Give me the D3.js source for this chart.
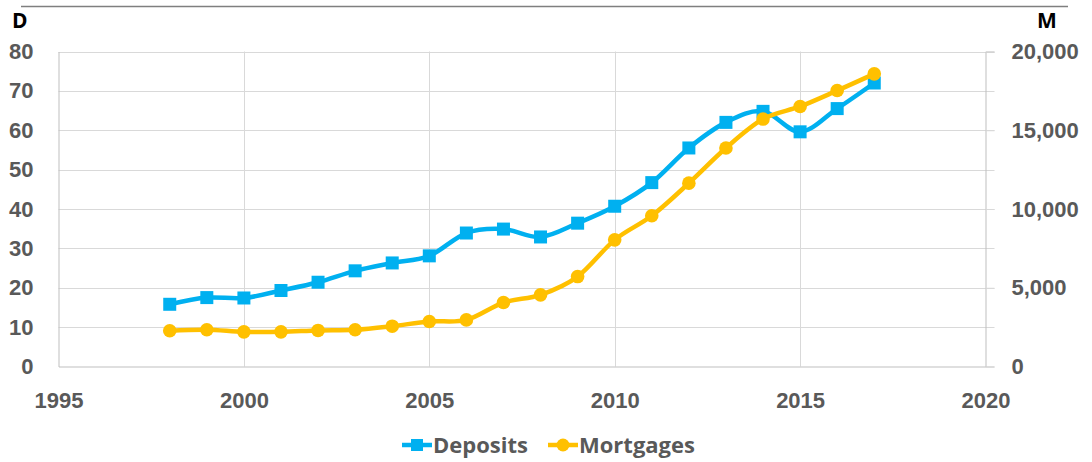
<!DOCTYPE html>
<html>
<head>
<meta charset="utf-8">
<script src="https://cdn.jsdelivr.net/npm/d3@7"></script>
<style>
    body { margin: 0; background: #fff; }
    svg { display: block; font-family: "Open Sans", sans-serif; font-weight: bold; }
    .grid line { stroke: #d9d9d9; stroke-width: 1; }
    .tick text { fill: #595959; font-size: 22px; }
</style>
</head>
<body>
<div class="svg_container"></div>
<script>
var years = [1998, 1999, 2000, 2001, 2002, 2003, 2004, 2005, 2006, 2007,
             2008, 2009, 2010, 2011, 2012, 2013, 2014, 2015, 2016, 2017];
var deposits = [15.8, 17.5, 17.4, 19.3, 21.4, 24.3, 26.3, 28.1, 33.9, 34.9,
                32.9, 36.4, 40.7, 46.7, 55.5, 62.0, 64.8, 59.6, 65.5, 72.0];
var mortgages = [2270, 2330, 2200, 2200, 2290, 2330, 2560, 2860, 2960, 4060,
                 4550, 5710, 8040, 9570, 11640, 13870, 15710, 16510, 17520, 18580];
var xTicks = [1995, 2000, 2005, 2010, 2015, 2020];
var leftTicks = [0, 10, 20, 30, 40, 50, 60, 70, 80];
var rightTicks = [0, 5000, 10000, 15000, 20000];

const WIDTH = 1092;
const HEIGHT = 462;
const LEFT = 58.5, RIGHT = 985.5, TOP = 51.5, BOTTOM = 366.5;
const BLUE = "#00b0f0", GOLD = "#ffc000";

var xScale = d3.scaleLinear().domain([1995, 2020]).range([LEFT, RIGHT]);
var yLeft = d3.scaleLinear().domain([0, 80]).range([BOTTOM, TOP]);
var yRight = d3.scaleLinear().domain([0, 20000]).range([BOTTOM, TOP]);

var svg = d3.select('.svg_container').append('svg')
    .attr('width', WIDTH)
    .attr('height', HEIGHT);

// cropped title underline
svg.append('line')
    .attr('x1', 21).attr('x2', 1068).attr('y1', 6.5).attr('y2', 6.5)
    .attr('stroke', '#7f7f7f').attr('stroke-width', 1.5);

// horizontal gridlines (extend a little past the right axis like tick marks)
svg.append('g').attr('class', 'grid')
    .selectAll('line').data(leftTicks.slice(1)).enter().append('line')
    .attr('x1', LEFT).attr('x2', RIGHT + 9)
    .attr('y1', function (d) { return Math.round(yLeft(d)) + 0.5; })
    .attr('y2', function (d) { return Math.round(yLeft(d)) + 0.5; });

// vertical gridlines
svg.append('g').attr('class', 'grid')
    .selectAll('line').data(xTicks.slice(1, -1)).enter().append('line')
    .attr('x1', function (d) { return Math.round(xScale(d)) + 0.5; })
    .attr('x2', function (d) { return Math.round(xScale(d)) + 0.5; })
    .attr('y1', TOP).attr('y2', BOTTOM);

// axes
var xAxis = d3.axisBottom(xScale).tickValues(xTicks).tickSize(0).tickPadding(26).tickFormat(d3.format('d'));
var leftAxis = d3.axisLeft(yLeft).tickValues(leftTicks).tickSize(0).tickPadding(25);
var rightAxis = d3.axisRight(yRight).tickValues(rightTicks).tickSize(9).tickPadding(17).tickFormat(d3.format(','));

svg.append('g').attr('transform', 'translate(0,' + BOTTOM + ')').call(xAxis)
    .call(function (g) { g.select('.domain').attr('stroke', '#bfbfbf'); });
svg.append('g').attr('transform', 'translate(' + LEFT + ',0)').call(leftAxis)
    .call(function (g) { g.select('.domain').attr('stroke', '#bfbfbf'); });
svg.append('g').attr('transform', 'translate(' + RIGHT + ',0)').call(rightAxis)
    .call(function (g) {
        g.select('.domain').attr('stroke', '#bfbfbf');
        g.selectAll('.tick line').attr('stroke', '#d9d9d9');
        g.selectAll('.tick text').attr('text-anchor', 'start');
    });

// axis unit labels
svg.append('text').attr('x', 12).attr('y', 28).attr('font-size', 21).attr('fill', '#000').text('D');
svg.append('text').attr('x', 1037).attr('y', 28).attr('font-size', 21).attr('fill', '#000').text('M');

var depData = years.map(function (y, i) { return {x: y, v: deposits[i]}; });
var morData = years.map(function (y, i) { return {x: y, v: mortgages[i]}; });

var depLine = d3.line()
    .x(function (d) { return xScale(d.x); })
    .y(function (d) { return yLeft(d.v); })
    .curve(d3.curveCardinal.tension(0));
var morLine = d3.line()
    .x(function (d) { return xScale(d.x); })
    .y(function (d) { return yRight(d.v); })
    .curve(d3.curveCardinal.tension(0));

// deposits
svg.append('path').attr('d', depLine(depData))
    .attr('fill', 'none').attr('stroke', BLUE).attr('stroke-width', 4.5);
svg.append('g').selectAll('rect').data(depData).enter().append('rect')
    .attr('x', function (d) { return xScale(d.x) - 6.5; })
    .attr('y', function (d) { return yLeft(d.v) - 6.5; })
    .attr('width', 13).attr('height', 13)
    .attr('fill', BLUE);

// mortgages
svg.append('path').attr('d', morLine(morData))
    .attr('fill', 'none').attr('stroke', GOLD).attr('stroke-width', 4.5);
svg.append('g').selectAll('circle').data(morData).enter().append('circle')
    .attr('cx', function (d) { return xScale(d.x); })
    .attr('cy', function (d) { return yRight(d.v); })
    .attr('r', 6.8)
    .attr('fill', GOLD);

// legend
var legend = [
    {name: 'Deposits', color: BLUE, shape: 'rect', x: 402},
    {name: 'Mortgages', color: GOLD, shape: 'circle', x: 548}
];
var lg = svg.append('g').selectAll('g').data(legend).enter().append('g')
    .attr('transform', function (d) { return 'translate(' + d.x + ',445)'; });
lg.append('line').attr('x1', 0).attr('x2', 30).attr('y1', 0).attr('y2', 0)
    .attr('stroke', function (d) { return d.color; }).attr('stroke-width', 4.5);
lg.filter(function (d) { return d.shape === 'rect'; }).append('rect')
    .attr('x', 9).attr('y', -6).attr('width', 12).attr('height', 12)
    .attr('fill', function (d) { return d.color; });
lg.filter(function (d) { return d.shape === 'circle'; }).append('circle')
    .attr('cx', 15).attr('cy', 0).attr('r', 6.5)
    .attr('fill', function (d) { return d.color; });
lg.append('text').attr('x', 31).attr('y', 8).attr('font-size', 22).attr('fill', '#595959')
    .text(function (d) { return d.name; });
</script>
</body>
</html>
